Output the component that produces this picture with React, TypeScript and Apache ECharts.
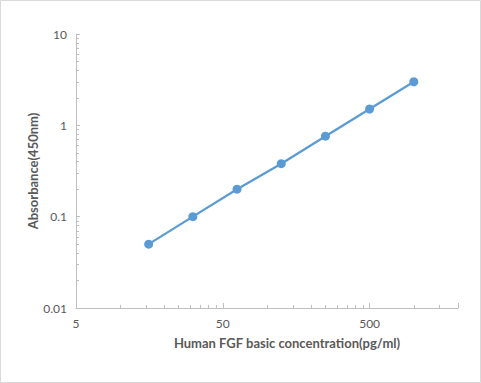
import React, { useEffect, useRef } from "react";
import * as echarts from "echarts";

// Data
const concentrations = [15.625, 31.25, 62.5, 125, 250, 500, 1000]; // pg/ml
const absorbances = [0.05, 0.1, 0.2, 0.38, 0.76, 1.51, 3.0]; // OD 450nm

// Axis tick labels
const xTickLabels = [5, 50, 500];
const yTickLabels = [0.01, 0.1, 1, 10];
const xRange = [5, 2000];
const yRange = [0.01, 10];

const lg = (v: number) => Math.log10(v);

// minor ticks (Excel style: k * base for k = 1..9)
const xMinorValues: number[] = [];
for (const base of [5, 50, 500]) {
  for (let k = 1; k <= 9; k++) {
    const v = base * k;
    if (v <= xRange[1] + 1e-9 && !xTickLabels.includes(v)) xMinorValues.push(lg(v));
  }
}
const yMinorValues: number[] = [];
for (const base of [0.01, 0.1, 1]) {
  for (let k = 2; k <= 9; k++) yMinorValues.push(lg(base * k));
}

const fmt = (v: number) => {
  const r = Math.pow(10, v);
  return String(parseFloat(r.toPrecision(6)));
};

const TEXT = "#595959";
const AXIS = "#bfbfbf";
const FONT = "Lato, 'Liberation Sans', sans-serif";

export default function App() {
  const ref = useRef<HTMLDivElement>(null);
  useEffect(() => {
    if (!ref.current) return;
    const chart = echarts.init(ref.current, undefined, { renderer: "svg" });
    const xmin = lg(xRange[0]);
    const xmax = lg(xRange[1]);
    const ymin = lg(yRange[0]);
    const ymax = lg(yRange[1]);
    chart.setOption({
      animation: false,
      backgroundColor: "#ffffff",
      grid: [{ left: 76, right: 23, top: 34, bottom: 75 }],
      xAxis: [
        {
          type: "value",
          position: "bottom",
          min: xmin,
          max: xmax,
          axisLine: { show: true, onZero: false, lineStyle: { color: AXIS, width: 1 } },
          axisTick: {
            show: true,
            inside: true,
            length: 5,
            lineStyle: { color: AXIS },
            customValues: xTickLabels.map(lg).concat([xmax]),
          },
          axisLabel: {
            show: true,
            margin: 9,
            color: TEXT,
            fontSize: 12,
            fontFamily: FONT,
            customValues: xTickLabels.map(lg),
            formatter: (v: number) => fmt(v),
          },
          splitLine: { show: false },
        },
        {
          type: "value",
          position: "bottom",
          min: xmin,
          max: xmax,
          axisLine: { show: false, onZero: false },
          axisTick: {
            show: true,
            inside: true,
            length: 3,
            lineStyle: { color: AXIS },
            customValues: xMinorValues,
          },
          axisLabel: { show: false },
          splitLine: { show: false },
        },
      ],
      yAxis: [
        {
          type: "value",
          position: "left",
          min: ymin,
          max: ymax,
          axisLine: { show: true, onZero: false, lineStyle: { color: AXIS, width: 1 } },
          axisTick: {
            show: true,
            inside: true,
            length: 4,
            lineStyle: { color: AXIS },
            customValues: yTickLabels.map(lg),
          },
          axisLabel: {
            show: true,
            margin: 9,
            color: TEXT,
            fontSize: 12,
            fontFamily: FONT,
            customValues: yTickLabels.map(lg),
            formatter: (v: number) => fmt(v),
          },
          splitLine: { show: false },
        },
        {
          type: "value",
          position: "left",
          min: ymin,
          max: ymax,
          axisLine: { show: false, onZero: false },
          axisTick: {
            show: true,
            inside: true,
            length: 3,
            lineStyle: { color: AXIS },
            customValues: yMinorValues,
          },
          axisLabel: { show: false },
          splitLine: { show: false },
        },
      ],
      series: [
        {
          type: "line",
          xAxisIndex: 0,
          yAxisIndex: 0,
          data: concentrations.map((c, i) => [lg(c), lg(absorbances[i])]),
          symbol: "circle",
          symbolSize: 9,
          itemStyle: { color: "#5b9bd5" },
          lineStyle: { color: "#5b9bd5", width: 2.25 },
        },
      ],
      graphic: [
        {
          type: "rect",
          shape: { x: 0.5, y: 0.5, width: 480, height: 382 },
          style: { fill: "none", stroke: "#d9d9d9", lineWidth: 1 },
          silent: true,
        },
        {
          type: "text",
          x: 287,
          y: 343,
          style: {
            text: "Human FGF basic concentration(pg/ml)",
            fill: TEXT,
            font: `bold 13px ${FONT}`,
            align: "center",
            verticalAlign: "middle",
          },
        },
        {
          type: "text",
          x: 33,
          y: 171,
          rotation: Math.PI / 2,
          style: {
            text: "Absorbance(450nm)",
            fill: TEXT,
            font: `bold 13px ${FONT}`,
            align: "center",
            verticalAlign: "middle",
          },
        },
      ],
    });
    return () => chart.dispose();
  }, []);
  return (
    <div
      ref={ref}
      style={{ position: "absolute", left: 0, top: 0, width: 481, height: 383 }}
    />
  );
}
